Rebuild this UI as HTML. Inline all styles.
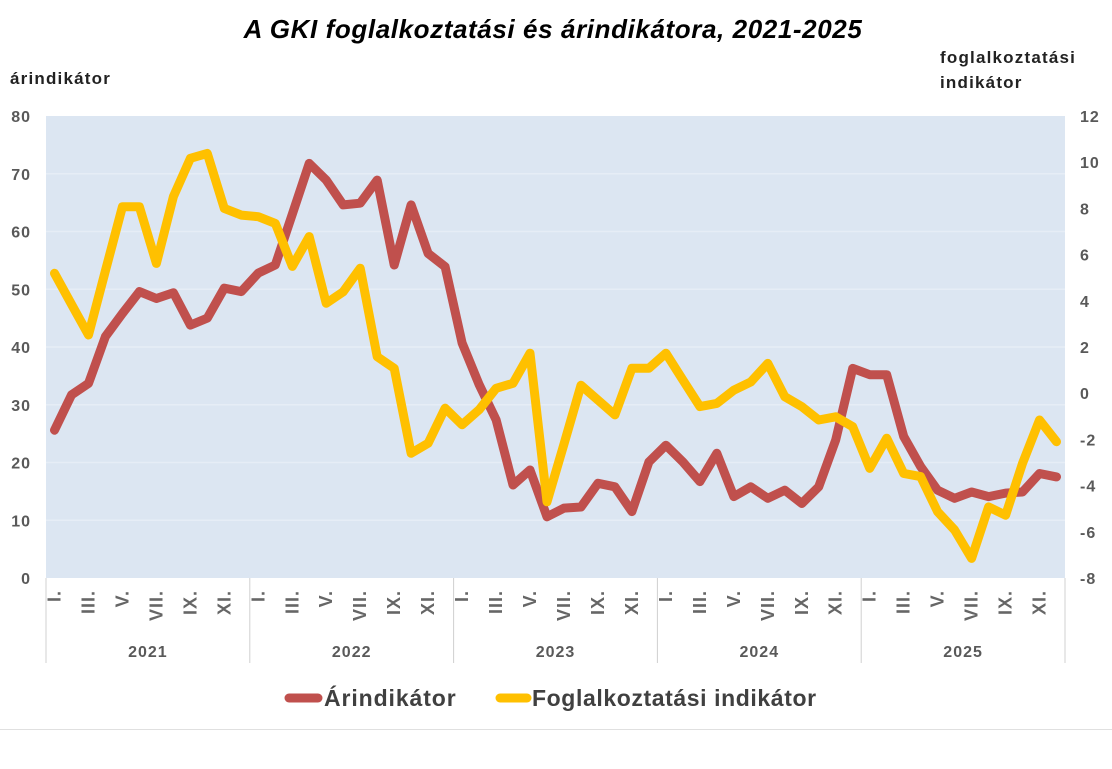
<!DOCTYPE html>
<html><head><meta charset="utf-8"><style>
body{margin:0;background:#fff;}
svg{display:block;font-family:"Liberation Sans",sans-serif;}
</style></head><body>
<svg id="chart" width="1112" height="769" viewBox="0 0 1112 769">
<text x="553" y="38" text-anchor="middle" font-size="26" font-weight="bold" font-style="italic" fill="#000" letter-spacing="0.6">A GKI foglalkoztatási és árindikátora, 2021-2025</text>
<text x="10" y="84" font-size="17" font-weight="bold" fill="#222" letter-spacing="1.2">árindikátor</text>
<text x="940" y="63" font-size="17" font-weight="bold" fill="#222" letter-spacing="1.2"><tspan x="940">foglalkoztatási</tspan><tspan x="940" dy="25">indikátor</tspan></text>
<rect x="46" y="116" width="1019" height="462" fill="#dce6f2"/>
<g id="grid"></g><g id="ticks"></g><g id="xaxis"></g><g id="series"></g>
<g>
<line x1="289" y1="698" x2="318" y2="698" stroke="#c0504d" stroke-width="9" stroke-linecap="round"/>
<text x="324" y="706" font-size="23" font-weight="bold" fill="#404040" letter-spacing="0.9">Árindikátor</text>
<line x1="500" y1="698" x2="527" y2="698" stroke="#ffc000" stroke-width="9" stroke-linecap="round"/>
<text x="532" y="706" font-size="23" font-weight="bold" fill="#404040" letter-spacing="0.6">Foglalkoztatási indikátor</text>
</g>
<line x1="0" y1="729.5" x2="1112" y2="729.5" stroke="#e0e0e0" stroke-width="1"/>
</svg>
<script>
const years = ["2021","2022","2023","2024","2025"];
const monthLabels = ["I.","","III.","","V.","","VII.","","IX.","","XI.",""];
const leftTicks = [0,10,20,30,40,50,60,70,80];
const rightTicks = [-8,-6,-4,-2,0,2,4,6,8,10,12];
const priceIndicator = [25.6,31.7,33.7,41.8,45.8,49.6,48.4,49.4,43.8,45,50.2,49.6,
52.8,54.2,63,71.8,68.9,64.6,64.9,68.9,54.2,64.6,56.2,53.9,
40.7,33.5,27.4,16.1,18.7,10.6,12.1,12.3,16.4,15.8,11.5,20.1,
23,20.1,16.7,21.6,14.1,15.8,13.8,15.2,12.9,15.8,23.9,36.3,
35.2,35.2,24.5,19.3,15.2,13.8,14.9,14.1,14.7,14.9,18.1,17.5];
const employmentIndicator = [5.19,3.85,2.52,5.3,8.07,8.07,5.62,8.51,10.17,10.38,8.0,7.71,
7.64,7.35,5.49,6.78,3.89,4.39,5.41,1.58,1.08,-2.6,-2.17,-0.65,
-1.37,-0.72,0.21,0.43,1.73,-4.7,-2.2,0.34,-0.3,-0.94,1.08,1.08,
1.73,0.57,-0.58,-0.44,0.13,0.49,1.29,-0.15,-0.58,-1.16,-1.02,-1.45,
-3.25,-1.95,-3.47,-3.61,-5.13,-5.92,-7.15,-4.92,-5.28,-3.04,-1.16,-2.1];

const NS="http://www.w3.org/2000/svg";
const X0=46,X1=1065,Y0=116,Y1=578;
const N=years.length*12, step=(X1-X0)/N;
const xOf=i=>X0+(i+0.5)*step;
const yL=v=>Y1-(v-0)/(80-0)*(Y1-Y0);
const yR=v=>Y1-(v+8)/(12+8)*(Y1-Y0);
function mk(tag,attrs,parent,txt){const e=document.createElementNS(NS,tag);for(const k in attrs)e.setAttribute(k,attrs[k]);if(txt!==undefined)e.textContent=txt;parent.appendChild(e);return e;}
const grid=document.getElementById('grid'),ticks=document.getElementById('ticks'),xaxis=document.getElementById('xaxis'),series=document.getElementById('series');
leftTicks.forEach(v=>{
  if(v>0&&v<80){const g=mk('line',{x1:X0,x2:X1,y1:yL(v),y2:yL(v),stroke:'#e6edf6','stroke-width':1.5},grid);
  
  }
  const t=mk('text',{x:31,y:yL(v)+6,'text-anchor':'end','font-size':16,'font-weight':'bold',fill:'#595959','letter-spacing':1},ticks,String(v));
  
  
});
rightTicks.forEach(v=>{
  const t=mk('text',{x:1080,y:yR(v)+6,'font-size':16,'font-weight':'bold',fill:'#595959','letter-spacing':1},ticks,String(v));
  
  
});
for(let yI=0;yI<=years.length;yI++){
  const x=X0+yI*12*step;
  const l=mk('line',{x1:x,x2:x,y1:Y1,y2:663,stroke:'#d0d0d0','stroke-width':1},xaxis);
  
  
}
years.forEach((yr,yI)=>{
  const t=mk('text',{x:X0+(yI*12+6)*step,y:657,'text-anchor':'middle','font-size':16,'font-weight':'bold',fill:'#595959','letter-spacing':1},xaxis,yr);
  
  
  monthLabels.forEach((m,mI)=>{
    if(!m)return;
    const x=xOf(yI*12+mI);
    const mt=mk('text',{x:0,y:0,transform:`translate(${x+6},590) rotate(-90)`,'text-anchor':'end','font-size':18,'font-weight':'bold',fill:'#666','letter-spacing':1},xaxis,m);
    
    
  });
});
function line(data,yf,color,name){
  const p=mk('polyline',{points:data.map((v,i)=>xOf(i).toFixed(1)+','+yf(v).toFixed(1)).join(' '),fill:'none',stroke:color,'stroke-width':9,'stroke-linejoin':'round','stroke-linecap':'round'},series);
  
  
}
line(priceIndicator,yL,'#c0504d','price-indicator-line');
line(employmentIndicator,yR,'#ffc000','employment-indicator-line');
</script>
</body></html>
